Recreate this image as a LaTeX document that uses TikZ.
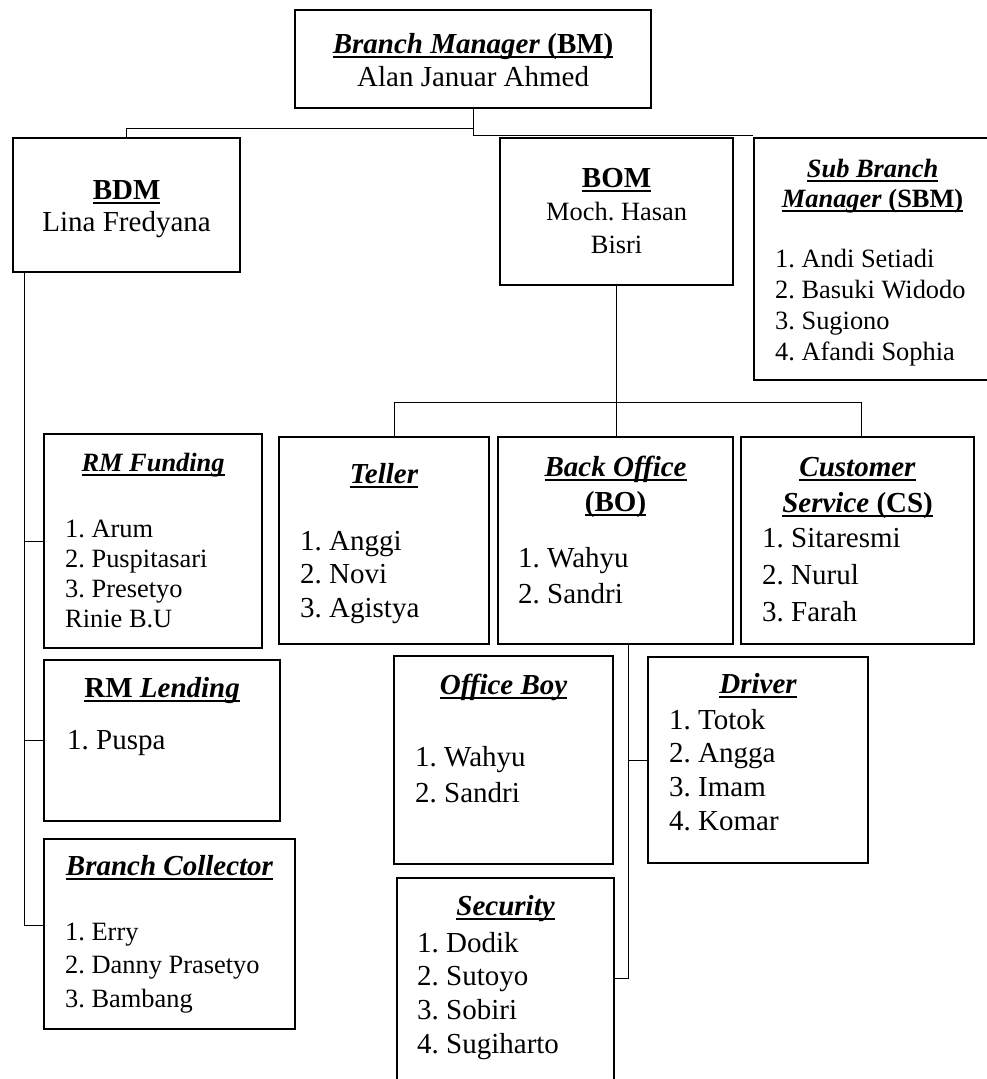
\documentclass[tikz,border=0pt]{standalone}
\usepackage{fontspec}
\setmainfont{Liberation Serif}
\usepackage{tikz}
\usetikzlibrary{positioning,calc}
\frenchspacing

\newcommand{\undl}[1]{\setbox0\hbox{#1}\rlap{\rule[-5pt]{\wd0}{2pt}}\box0}
\newcommand{\ttl}[1]{\undl{\textbf{#1}}}
\newcommand{\heading}[3]{{\fontsize{#1}{#2}\selectfont\begin{tabular}[t]{@{}c@{}}#3\end{tabular}}}
\newcommand{\namelist}[3]{{\fontsize{#1}{#2}\selectfont\begin{tabular}[t]{@{}l@{}}#3\end{tabular}}}

\begin{document}
\begin{tikzpicture}[
  x=1pt, y=-1pt,
  box/.style={draw, line width=2.2pt, anchor=north west, inner sep=0pt},
  head/.style={inner sep=0pt, anchor=base},
  names/.style={inner sep=0pt, anchor=base west},
  conn/.style={draw, line width=1pt}
]
\useasboundingbox (0,0) rectangle (987,1079);

\node[box, minimum width=356pt, minimum height=98pt] (bm) at (294,9) {};
\node[box, minimum width=227pt, minimum height=134pt] (bdm) at (12,137) {};
\node[box, minimum width=233pt, minimum height=147pt] (bom) at (499,137) {};
\node[box, minimum width=237pt, minimum height=242pt] (sbm) at (753,137) {};
\node[box, minimum width=218pt, minimum height=214pt] (fund) at (43,433) {};
\node[box, minimum width=210pt, minimum height=207pt] (tel) at (278,436) {};
\node[box, minimum width=235pt, minimum height=207pt] (bo) at (497,436) {};
\node[box, minimum width=233pt, minimum height=207pt] (cs) at (740,436) {};
\node[box, minimum width=236pt, minimum height=161pt] (lend) at (43,659) {};
\node[box, minimum width=251pt, minimum height=190pt] (coll) at (43,838) {};
\node[box, minimum width=219pt, minimum height=208pt] (ob) at (393,655) {};
\node[box, minimum width=220pt, minimum height=206pt] (drv) at (647,656) {};
\node[box, minimum width=217pt, minimum height=212pt] (sec) at (396,877) {};

\node[below=44pt of bm.north, head] {\heading{29}{33}{\ttl{\textit{Branch Manager} (BM)}\\Alan Januar Ahmed}};
\node[below=62pt of bdm.north, head] {\heading{29}{32}{\ttl{BDM}\\Lina Fredyana}};
\node[below=50pt of bom.north, head] {\heading{29}{33}{\ttl{BOM}}};
\node[below=83pt of bom.north, head] {\heading{26.4}{33}{Moch. Hasan\\Bisri}};
\node[below=40pt of sbm.north, head] {\heading{26.4}{30}{\ttl{\textit{Sub Branch}}\\\ttl{\textit{Manager} (SBM)}}};
\node[below right=130pt and 22pt of sbm.north west, names] {\namelist{26.4}{31}{1. Andi Setiadi\\2. Basuki Widodo\\3. Sugiono\\4. Afandi Sophia}};

\node[below=38pt of fund.north, head] {\heading{26.4}{30}{\ttl{\textit{RM Funding}}}};
\node[below right=104pt and 22pt of fund.north west, names] {\namelist{26.4}{30.3}{1. Arum\\2. Puspitasari\\3. Presetyo\\Rinie B.U}};
\node[below=47pt of tel.north, head] {\heading{29}{33}{\ttl{\textit{Teller}}}};
\node[below right=114pt and 22pt of tel.north west, names] {\namelist{29}{33.5}{1. Anggi\\2. Novi\\3. Agistya}};
\node[below=40pt of bo.north, head] {\heading{29}{35}{\ttl{\textit{Back Office}}\\\ttl{(BO)}}};
\node[below right=131pt and 21pt of bo.north west, names] {\namelist{29}{36}{1. Wahyu\\2. Sandri}};
\node[below=40pt of cs.north, head] {\heading{29}{36}{\ttl{\textit{Customer}}\\\ttl{\textit{Service} (CS)}}};
\node[below right=111pt and 22pt of cs.north west, names] {\namelist{29}{37}{1. Sitaresmi\\2. Nurul\\3. Farah}};

\node[below=38pt of lend.north, head] {\heading{29}{33}{\ttl{RM \textit{Lending}}}};
\node[below right=90pt and 24pt of lend.north west, names] {\namelist{29}{33}{1. Puspa}};
\node[below=37pt of coll.north, head] {\heading{29}{33}{\ttl{\textit{Branch Collector}}}};
\node[below right=102pt and 22pt of coll.north west, names] {\namelist{26.4}{33.5}{1. Erry\\2. Danny Prasetyo\\3. Bambang}};
\node[below=39pt of ob.north, head] {\heading{29}{33}{\ttl{\textit{Office Boy}}}};
\node[below right=111pt and 22pt of ob.north west, names] {\namelist{29}{36}{1. Wahyu\\2. Sandri}};
\node[below=37pt of drv.north, head] {\heading{29}{33}{\ttl{\textit{Driver}}}};
\node[below right=73pt and 22pt of drv.north west, names] {\namelist{29}{33.7}{1. Totok\\2. Angga\\3. Imam\\4. Komar}};
\node[below=38pt of sec.north, head] {\heading{29}{33}{\ttl{\textit{Security}}}};
\node[below right=75pt and 21pt of sec.north west, names] {\namelist{29}{33.7}{1. Dodik\\2. Sutoyo\\3. Sobiri\\4. Sugiharto}};

\coordinate (jbm) at ($(bm.south)+(0,19)$);
\coordinate (jbom) at ($(bom.south)+(0,116)$);
\coordinate (bdl) at ($(bdm.south west)+(12,0)$);
\coordinate (bol) at ($(bo.south)+(13,0)$);

\draw[conn] (bm.south) -- (jbm) -| (bdm.north);
\draw[conn] (jbm) |- ($(sbm.north west)+(0,-2)$);
\draw[conn] (bom.south) -- (jbom);
\draw[conn] ($(tel.north)+(10,0)$) |- (jbom) -| ($(cs.north)+(4,0)$);
\draw[conn] (jbom) -- (jbom |- bo.north);
\draw[conn] (bdl) |- ($(coll.west)+(0,-9)$);
\draw[conn] (fund.west) -- (fund.west -| bdl);
\draw[conn] (lend.west) -- (lend.west -| bdl);
\draw[conn] (bol) |- ($(sec.north east)+(0,101)$);
\draw[conn] (drv.west) -- (drv.west -| bol);
\end{tikzpicture}
\end{document}
